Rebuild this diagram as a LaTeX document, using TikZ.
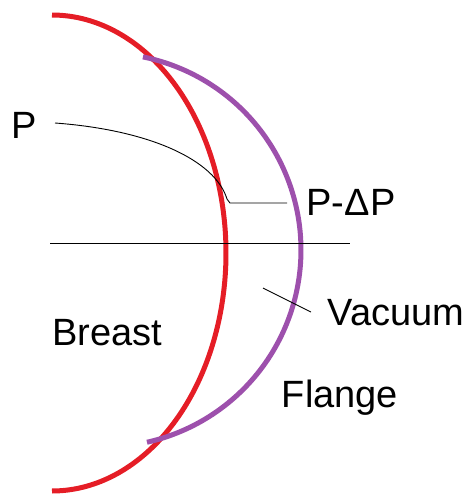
\documentclass[tikz,border=0pt]{standalone}
\usepackage{fontspec}
\setmainfont{Liberation Sans}
\definecolor{breastred}{RGB}{229,29,38}
\definecolor{flangepurple}{RGB}{157,80,172}
\begin{document}
\begin{tikzpicture}[x=1pt,y=-1pt,
  lbl/.style={inner sep=0pt,anchor=base,font=\fontsize{38}{40}\selectfont},
  thick arc/.style={line width=5pt},
  thin/.style={line width=0.9pt,black}]
\useasboundingbox (0,0) rectangle (471,496);
% breast (elliptical arc)
\draw[thick arc,breastred] plot[domain=-90:90,samples=90,smooth] ({52+174*cos(\x)},{253+238*sin(\x)});
% flange (circular arc)
\draw[thick arc,flangepurple] plot[domain=-78.6:77.4,samples=80,smooth] ({104+197*cos(\x)},{250+197*sin(\x)});
% labels
\node[lbl] (p) at (24,138) {P};
\node[lbl] (pdp) at (351,215) {P-ΔP};
\node[lbl] (vac) at (396,325) {Vacuum};
\node[lbl] (breast) at (107,345) {Breast};
\node[lbl] (flange) at (340,407) {Flange};
% pointer lines
\coordinate (pstart) at (55,123);
\coordinate (pkink) at (230,203);
\coordinate (pend) at (287,203);
\draw[thin] (pstart) .. controls (150,130) and (215,160) .. (227,199) -- (pkink) -- (pend);
\coordinate (axl) at (50,243);
\coordinate (axr) at (350,243);
\draw[thin] (axl) -- (axr);
\coordinate (va) at (263,288);
\coordinate (vb) at (311,312);
\draw[thin] (va) -- (vb);
\end{tikzpicture}
\end{document}
